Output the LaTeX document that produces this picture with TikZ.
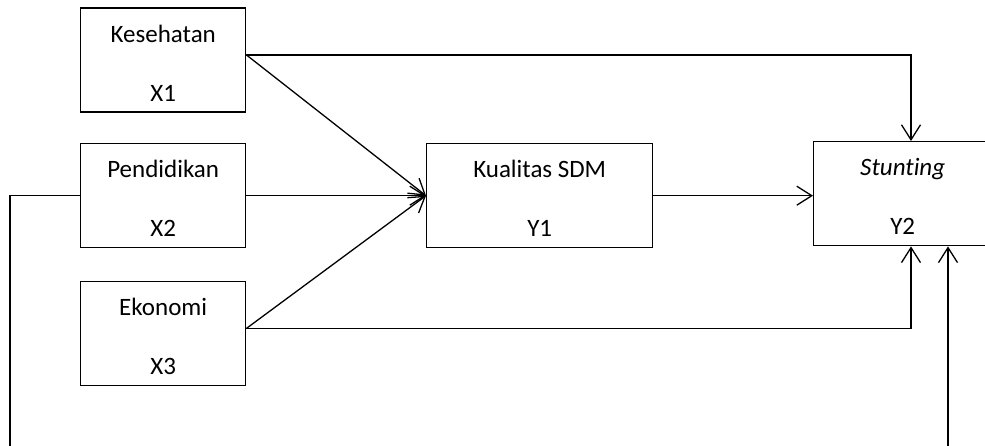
\documentclass[tikz,border=0pt]{standalone}
\usepackage{fontspec}
\setmainfont{Carlito}[Ligatures=NoCommon]
\usetikzlibrary{arrows.meta,calc}
\begin{document}
\begin{tikzpicture}[x=1pt,y=-1pt,
  box/.style={draw, line width=1.4pt, minimum width=165pt, minimum height=104pt,
    inner sep=0pt, align=center, anchor=north west,
    font=\fontsize{25}{59}\selectfont},
  conn/.style={line width=1.3pt},
  arr/.style={conn, -{Straight Barb[length=15pt,width=19pt,line width=1.3pt]}}]
\useasboundingbox (0,0) rectangle (985,446);
\clip (0,0) rectangle (985,446);
\node[box] (x1) at (80,7.5) {\rule{0pt}{23pt}Kesehatan\\X1};
\node[box] (x2) at (80,143) {\rule{0pt}{23pt}Pendidikan\\X2};
\node[box] (x3) at (80,281) {\rule{0pt}{23pt}Ekonomi\\X3};
\node[box, minimum width=226pt] (y1) at (426,143) {\rule{0pt}{23pt}Kualitas SDM\\Y1};
\node[box, minimum width=178pt] (y2) at (813,141) {\rule{0pt}{23pt}\textit{Stunting}\\Y2};
\coordinate (x1o) at ($(x1.north east)!0.45!(x1.south east)$);
\coordinate (x3o) at ($(x3.north east)!0.45!(x3.south east)$);
\coordinate (c1) at (911,0 |- x1o);
\coordinate (c3) at (911,0 |- x3o);
\coordinate (l1) at (10,0 |- x2.west);
\coordinate (l2) at (10,470);
\coordinate (r1) at (948,470);
\draw[arr] (x1o) -- (c1) -- (c1 |- y2.north);
\draw[arr] (x1o) -- (y1.west);
\draw[arr] (x2.east) -- (y1.west);
\draw[arr] (x3o) -- (y1.west);
\draw[arr] (y1.east) -- (y1.east -| y2.west);
\draw[arr] (x3o) -- (c3) -- (c3 |- y2.south);
\draw[conn] (x2.west) -- (l1) -- (l2);
\draw[arr] (r1) -- (r1 |- y2.south);
\end{tikzpicture}
\end{document}
